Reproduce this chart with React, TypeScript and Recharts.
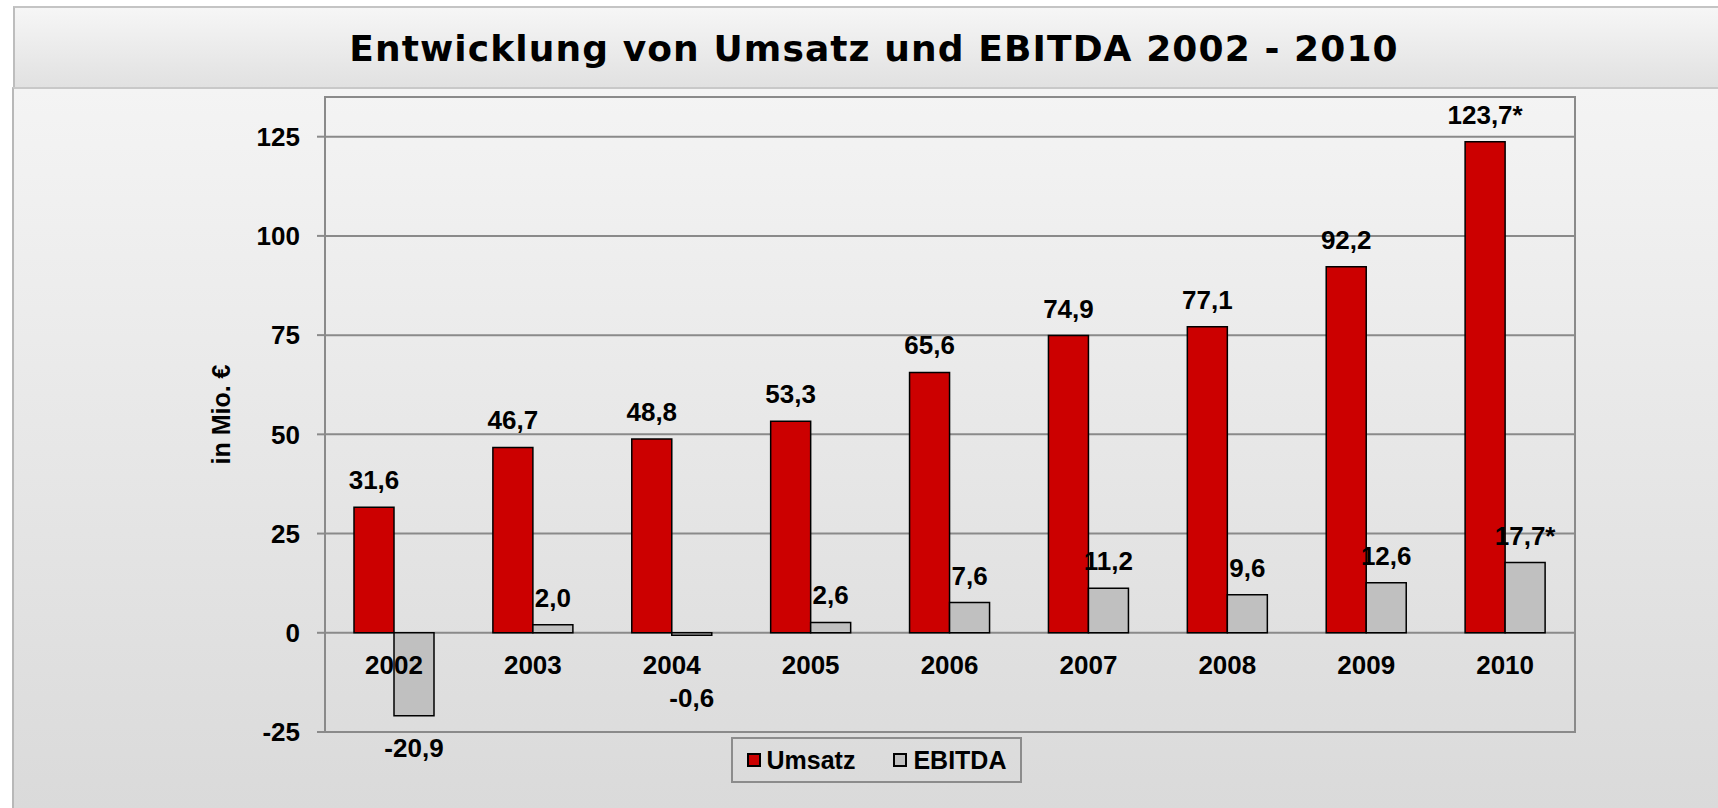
import {
  Bar,
  BarChart,
  CartesianGrid,
  Label,
  LabelList,
  Legend,
  ReferenceArea,
  XAxis,
  YAxis,
} from 'recharts'

const years = ['2002', '2003', '2004', '2005', '2006', '2007', '2008', '2009', '2010']
const umsatz = [31.6, 46.7, 48.8, 53.3, 65.6, 74.9, 77.1, 92.2, 123.7]
const ebitda = [-20.9, 2.0, -0.6, 2.6, 7.6, 11.2, 9.6, 12.6, 17.7]
// Werte 2010 sind vorläufig (mit * gekennzeichnet)
const footnote = ['', '', '', '', '', '', '', '', '*']
const yTicks = [-25, 0, 25, 50, 75, 100, 125]
const seriesNames = ['Umsatz', 'EBITDA']

const data = years.map((year, i) => ({
  year,
  umsatz: umsatz[i],
  ebitda: ebitda[i],
}))

const FONT = '"Liberation Sans", Arial, sans-serif'
const GRID = '#8a8a8a'

const fmt = (v: number) => v.toFixed(1).replace('.', ',')

function ValueLabel(props: any) {
  const { x, y, width, height, value, index } = props
  const top = Math.min(y, y + height)
  const bottom = Math.max(y, y + height)
  const cx = x + width / 2
  let cy = top - 27
  if (value < 0) {
    cy = Math.max(bottom + 32, top + 65)
  }
  return (
    <text
      x={cx}
      y={cy}
      dy={9}
      textAnchor="middle"
      fontFamily={FONT}
      fontWeight="bold"
      fontSize={26}
      fill="#000"
    >
      {fmt(value) + footnote[index]}
    </text>
  )
}

// Jahreszahlen an der Nulllinie (unter dem Umsatz-Balken, mittig zum Balkenpaar)
function YearLabel(props: any) {
  const { x, y, width, height, value } = props
  const zero = Math.max(y, y + height)
  return (
    <text
      x={x + width}
      y={zero + 32}
      dy={9}
      textAnchor="middle"
      fontFamily={FONT}
      fontWeight="bold"
      fontSize={26}
      fill="#000"
    >
      {value}
    </text>
  )
}

function YLabel(props: any) {
  const { viewBox } = props
  const cx = viewBox.x - 4
  const cy = viewBox.y + viewBox.height / 2
  return (
    <text
      x={cx}
      y={cy}
      transform={`rotate(-90 ${cx} ${cy})`}
      textAnchor="middle"
      dominantBaseline="central"
      fontFamily={FONT}
      fontWeight="bold"
      fontSize={25}
      fill="#000"
    >
      in Mio. €
    </text>
  )
}

function LegendBox(props: any) {
  const items = [...(props.payload || [])].sort(
    (a: any, b: any) => seriesNames.indexOf(a.value) - seriesNames.indexOf(b.value)
  )
  return (
    <div
      style={{
        boxSizing: 'border-box',
        width: 291,
        height: 46,
        border: '2px solid #8c8c8c',
        display: 'flex',
        alignItems: 'center',
        justifyContent: 'center',
        gap: 38,
        fontFamily: FONT,
        fontWeight: 'bold',
        fontSize: 25,
        color: '#000',
      }}
    >
      {items.map((item: any) => (
        <div key={item.value} style={{ display: 'flex', alignItems: 'center' }}>
          <span
            style={{
              display: 'inline-block',
              boxSizing: 'border-box',
              width: 14,
              height: 14,
              background: item.color,
              border: '2px solid #000',
              marginRight: 6,
            }}
          />
          <span>{item.value}</span>
        </div>
      ))}
    </div>
  )
}

export default function App() {
  return (
    <div
      style={{
        position: 'absolute',
        left: 0,
        top: 0,
        width: 1718,
        height: 808,
        background: '#fff',
        overflow: 'hidden',
      }}
    >
      <div
        style={{
          position: 'absolute',
          left: 13,
          top: 6,
          width: 1705,
          height: 81,
          boxSizing: 'border-box',
          borderTop: '2px solid #c4c4c4',
          borderLeft: '2px solid #bdbdbd',
          background: 'linear-gradient(#f6f6f6, #e1e1e1)',
        }}
      />
      <div
        style={{
          position: 'absolute',
          left: 12,
          top: 87,
          width: 1706,
          height: 721,
          boxSizing: 'border-box',
          borderTop: '2px solid #c8c8c8',
          borderLeft: '2px solid #b8b8b8',
          background: 'linear-gradient(#f4f4f4, #dadada)',
        }}
      />
      <div
        style={{
          position: 'absolute',
          left: 274,
          top: 31,
          width: 1200,
          textAlign: 'center',
          fontFamily: '"DejaVu Sans", Verdana, sans-serif',
          fontWeight: 'bold',
          fontSize: 36,
          lineHeight: '36px',
          letterSpacing: 1.1,
          color: '#000',
          whiteSpace: 'nowrap',
        }}
      >
        Entwicklung von Umsatz und EBITDA 2002 - 2010
      </div>

      <div style={{ position: 'absolute', left: 0, top: 0 }}>
        <BarChart
          width={1718}
          height={808}
          data={data}
          margin={{ top: 97, right: 143, bottom: 76, left: 225 }}
          barSize={40}
          barGap={0}
        >
          <CartesianGrid vertical={false} stroke={GRID} strokeWidth={2} />
          <ReferenceArea y1={-25} y2={135} fill="none" stroke={GRID} strokeWidth={2} ifOverflow="visible" />
          <XAxis dataKey="year" hide />
          <YAxis
            width={100}
            domain={[-25, 135]}
            ticks={yTicks}
            interval={0}
            allowDataOverflow
            tickSize={8}
            tickMargin={17}
            axisLine={{ stroke: GRID, strokeWidth: 2 }}
            tickLine={{ stroke: GRID, strokeWidth: 2 }}
            tick={{ fontFamily: FONT, fontWeight: 'bold', fontSize: 26, fill: '#000' }}
          >
            <Label content={YLabel} />
          </YAxis>
          <Legend
            layout="vertical"
            align="center"
            verticalAlign="middle"
            content={LegendBox}
            wrapperStyle={{ left: 731, top: 737, width: 291, height: 46 }}
          />
          <Bar
            dataKey="umsatz"
            name={seriesNames[0]}
            fill="#cc0000"
            stroke="#000"
            strokeWidth={1.5}
            isAnimationActive={false}
          >
            <LabelList dataKey="umsatz" content={ValueLabel} />
            <LabelList dataKey="year" content={YearLabel} />
          </Bar>
          <Bar
            dataKey="ebitda"
            name={seriesNames[1]}
            fill="#c0c0c0"
            stroke="#000"
            strokeWidth={1.5}
            isAnimationActive={false}
          >
            <LabelList dataKey="ebitda" content={ValueLabel} />
          </Bar>
        </BarChart>
      </div>
    </div>
  )
}
